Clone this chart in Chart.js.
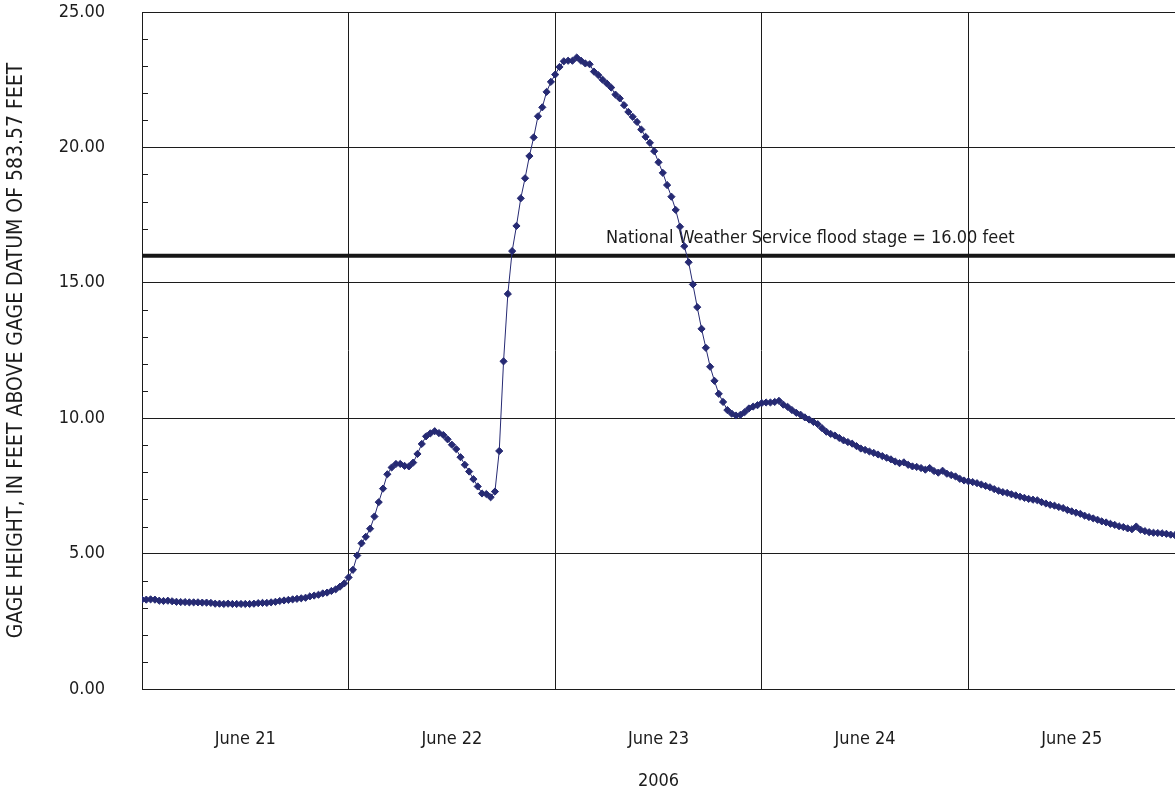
<!DOCTYPE html>
<html>
<head>
<meta charset="utf-8">
<title>Gage height, June 21-25, 2006</title>
<script src="https://cdn.jsdelivr.net/npm/chart.js@4.4.1/dist/chart.umd.min.js"></script>
<style>
  html, body { margin: 0; padding: 0; background: #ffffff; }
  canvas { display: block; }
</style>
</head>
<body>
<canvas id="stageChart" width="1175" height="796"></canvas>
<script>
// Half-hourly gage height readings (feet above gage datum), one array per day,
// starting at midnight. The last array also carries the June 26 00:00 reading.
const june21 = [
  3.30, 3.30, 3.31, 3.30, 3.26, 3.25, 3.26, 3.24, 3.22, 3.21,
  3.21, 3.20, 3.20, 3.20, 3.19, 3.19, 3.18, 3.15, 3.15, 3.14,
  3.15, 3.14, 3.14, 3.14, 3.14, 3.14, 3.15, 3.17, 3.18, 3.18,
  3.20, 3.22, 3.25, 3.27, 3.29, 3.31, 3.33, 3.35, 3.37, 3.42,
  3.45, 3.48, 3.53, 3.56, 3.62, 3.68, 3.78, 3.90
];
const june22 = [
  4.12, 4.40, 4.93, 5.38, 5.62, 5.92, 6.37, 6.90, 7.40, 7.93,
  8.18, 8.31, 8.31, 8.24, 8.22, 8.36, 8.68, 9.05, 9.33, 9.44,
  9.52, 9.45, 9.38, 9.22, 9.02, 8.86, 8.56, 8.28, 8.03, 7.75,
  7.48, 7.22, 7.20, 7.08, 7.29, 8.79, 12.10, 14.59, 16.17, 17.10,
  18.12, 18.86, 19.68, 20.37, 21.15, 21.48, 22.05, 22.42
];
const june23 = [
  22.69, 22.97, 23.18, 23.20, 23.20, 23.32, 23.20, 23.10, 23.07, 22.80,
  22.67, 22.50, 22.36, 22.21, 21.95, 21.81, 21.56, 21.31, 21.13, 20.94,
  20.66, 20.39, 20.17, 19.86, 19.45, 19.06, 18.61, 18.18, 17.69, 17.07,
  16.35, 15.76, 14.94, 14.10, 13.30, 12.60, 11.90, 11.38, 10.90, 10.60,
  10.30, 10.17, 10.10, 10.12, 10.22, 10.36, 10.43, 10.48
];
const june24 = [
  10.56, 10.58, 10.58, 10.60, 10.64, 10.50, 10.42, 10.30, 10.20, 10.13,
  10.03, 9.95, 9.86, 9.78, 9.63, 9.50, 9.42, 9.36, 9.27, 9.18,
  9.12, 9.06, 8.97, 8.88, 8.83, 8.77, 8.72, 8.66, 8.60, 8.54,
  8.48, 8.40, 8.34, 8.37, 8.28, 8.22, 8.20, 8.16, 8.10, 8.16,
  8.05, 7.99, 8.06, 7.95, 7.90, 7.85, 7.76, 7.70
];
const june25 = [
  7.67, 7.64, 7.60, 7.55, 7.50, 7.45, 7.38, 7.32, 7.27, 7.24,
  7.19, 7.15, 7.10, 7.06, 7.02, 6.99, 6.97, 6.90, 6.85, 6.80,
  6.77, 6.72, 6.68, 6.61, 6.56, 6.51, 6.47, 6.40, 6.35, 6.30,
  6.25, 6.19, 6.15, 6.10, 6.06, 6.01, 5.98, 5.93, 5.90, 6.00,
  5.88, 5.83, 5.79, 5.77, 5.76, 5.75, 5.73, 5.70, 5.68
];

const dayLabels = ['June 21', 'June 22', 'June 23', 'June 24', 'June 25'];
const yearLabel = '2006';
const yAxisTitle = 'GAGE HEIGHT, IN FEET ABOVE GAGE DATUM OF 583.57 FEET';
const floodStage = 16.00;
const floodLabel = 'National Weather Service flood stage = 16.00 feet';

const readingIntervalHours = 0.5;
const hoursShown = 120;
const floodLabelHour = 53.9;

const FONT = "'DejaVu Sans Condensed', 'Liberation Sans Narrow', sans-serif";
const INK = '#1c1c1c';
const SERIES = '#262a73';

const readings = [...june21, ...june22, ...june23, ...june24, ...june25]
  .map((v, i) => ({ x: i * readingIntervalHours, y: v }));

// Short unlabeled ticks on the inside of the left axis at every foot.
const minorTicks = {
  id: 'minorTicks',
  beforeDatasetsDraw(chart) {
    const { ctx, scales: { y }, chartArea } = chart;
    ctx.save();
    ctx.strokeStyle = INK;
    ctx.lineWidth = 1;
    for (let v = 1; v < 25; v++) {
      if (v % 5 === 0) continue;
      const py = Math.round(y.getPixelForValue(v)) + 0.5;
      ctx.beginPath();
      ctx.moveTo(chartArea.left, py);
      ctx.lineTo(chartArea.left + 6, py);
      ctx.stroke();
    }
    ctx.restore();
  }
};

// Caption written just above the flood-stage line.
const floodCaption = {
  id: 'floodCaption',
  beforeDatasetsDraw(chart) {
    const { ctx, scales: { x, y } } = chart;
    ctx.save();
    ctx.font = `18px ${FONT}`;
    ctx.fillStyle = INK;
    ctx.textAlign = 'left';
    ctx.textBaseline = 'alphabetic';
    ctx.fillText(floodLabel, x.getPixelForValue(floodLabelHour), y.getPixelForValue(floodStage) - 12.5);
    ctx.restore();
  }
};

new Chart(document.getElementById('stageChart'), {
  type: 'line',
  data: {
    datasets: [
      {
        label: 'Gage height',
        data: readings,
        borderColor: SERIES,
        backgroundColor: SERIES,
        borderWidth: 1,
        pointStyle: 'rectRot',
        pointRadius: 3.6,
        pointBorderWidth: 1,
        pointBorderColor: SERIES,
        pointBackgroundColor: SERIES,
        tension: 0,
        order: 0
      },
      {
        label: 'Flood stage',
        data: [{ x: 0, y: floodStage }, { x: hoursShown, y: floodStage }],
        borderColor: '#161616',
        borderWidth: 4,
        pointRadius: 0,
        order: 1
      }
    ]
  },
  options: {
    responsive: false,
    animation: false,
    devicePixelRatio: 1,
    layout: { autoPadding: false, padding: { top: 12, right: -2, bottom: 0, left: 0 } },
    plugins: { legend: { display: false }, tooltip: { enabled: false } },
    scales: {
      x: {
        type: 'linear',
        min: 0,
        max: hoursShown,
        afterFit(scale) {
          scale.height = 107;
          scale.paddingLeft = 0;
          scale.paddingRight = 0;
        },
        ticks: {
          stepSize: 12,
          autoSkip: false,
          maxRotation: 0,
          padding: 40,
          color: INK,
          font: { family: FONT, size: 18 },
          callback: (v) => (v % 24 === 12 ? dayLabels[(v - 12) / 24] : '')
        },
        grid: {
          drawTicks: false,
          lineWidth: 1,
          color: (c) => (c.tick && c.tick.value % 24 === 0 && c.tick.value > 0 && c.tick.value < hoursShown) ? INK : 'rgba(0,0,0,0)'
        },
        border: { color: INK, width: 1 },
        title: {
          display: true,
          text: yearLabel,
          color: INK,
          font: { family: FONT, size: 18 },
          padding: { top: 0, bottom: 4 }
        }
      },
      y: {
        min: 0,
        max: 25,
        afterFit(scale) {
          scale.width = 142;
          scale.paddingTop = 0;
          scale.paddingBottom = 0;
        },
        ticks: {
          stepSize: 1,
          autoSkip: false,
          padding: 37,
          color: INK,
          font: { family: FONT, size: 18 },
          callback: (v) => (v % 5 === 0 ? v.toFixed(2) : '')
        },
        grid: {
          drawTicks: false,
          lineWidth: 1,
          color: (c) => (c.tick && c.tick.value % 5 === 0) ? INK : 'rgba(0,0,0,0)'
        },
        border: { color: INK, width: 1 },
        title: {
          display: true,
          text: yAxisTitle,
          color: INK,
          font: { family: FONT, size: 21 },
          padding: { top: 4, bottom: 0 }
        }
      }
    }
  },
  plugins: [minorTicks, floodCaption]
});
</script>
</body>
</html>
